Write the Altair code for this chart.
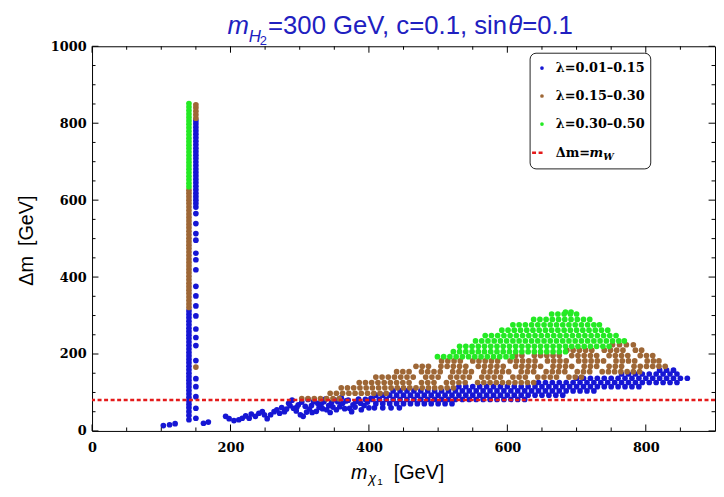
import altair as alt
import pandas as pd

# ---------------- data ----------------
lam_labels = ["λ=0.01–0.15", "λ=0.15–0.30", "λ=0.30–0.50"]
lam_colors = ["#1616d4", "#9e6736", "#24ea24"]
mw_values = [80.4]

x_major = [0, 200, 400, 600, 800]
x_minor = [50, 100, 150, 250, 300, 350, 450, 500, 550, 650, 700, 750, 850]
y_major = [0, 200, 400, 600, 800, 1000]
y_minor = [50, 100, 150, 250, 300, 350, 450, 500, 550, 650, 700, 750, 850, 900, 950]

# vertical strip near m_chi1 ~ 140 GeV
strip1_x = 140
strip1_blue = [29, 40, 50, 60, 69, 78, 87, 96, 105, 114, 123, 132, 141, 150, 159, 168,
               177, 186, 195, 204, 213, 222, 231, 240, 249, 258, 267, 276, 285, 294, 303, 312]
strip1_brown = [321, 330, 339, 348, 357, 366, 375, 384, 393, 402, 411, 420, 429, 438, 447,
                456, 465, 474, 483, 492, 501, 510, 519, 528, 537, 546, 555, 564, 573, 582,
                591, 600, 609, 618, 626]
strip1_green = [635, 644, 653, 662, 671, 680, 689, 698, 707, 716, 725, 734, 743, 752, 761,
                770, 779, 788, 797, 806, 815, 824, 833, 842, 851]
strip2_x = 150
strip2_blue = [582, 591, 600, 609, 618, 627, 636, 645, 654, 663, 672, 681, 690, 699, 708,
               717, 726, 735, 744, 753, 762, 771, 780, 789, 798, 806,
               565, 539, 513, 496, 462, 445, 419, 376, 351, 325, 299, 265, 243, 222, 183,
               136, 115, 89, 59, 33]
strip2_brown = [166, 813, 822, 831, 840, 848]

blue_scatter = [(103, 14), (112, 16), (120, 19), (161, 20), (168, 23), (193, 38), (198, 32),
                (205, 27), (212, 29), (217, 33), (222, 39), (227, 33), (230, 44), (236, 38),
                (241, 46), (246, 50), (249, 42), (253, 32), (258, 42), (263, 50), (267, 55),
                (271, 46), (274, 61), (278, 50), (281, 57), (284, 72), (286, 66), (289, 80),
                (291, 59), (295, 52), (296, 62), (298, 68), (301, 42), (303, 75), (305, 38),
                (308, 64), (310, 49), (312, 82), (314, 57), (317, 66), (318, 48), (320, 76),
                (324, 51), (326, 72), (328, 61), (331, 70), (333, 58), (335, 76), (337, 83),
                (339, 55), (342, 66), (344, 48), (346, 74), (348, 62), (350, 81), (353, 55),
                (355, 76), (358, 63), (360, 86), (362, 72), (365, 58), (367, 78), (370, 80),
                (372, 59), (375, 50), (377, 68), (380, 62), (381, 76), (385, 83), (388, 72),
                (389, 55), (393, 66), (395, 82), (398, 75), (400, 60), (403, 85)]

blue_rows = {
    60: [408, 420, 432, 444],
    71: [410, 420, 430, 440, 450, 460, 470, 480, 490, 500, 510, 520],
    82: [405, 415, 425, 435, 445, 455, 465, 475, 485, 495, 505, 515, 525, 535, 545, 555,
         565, 575, 585, 595, 605, 615, 625],
    93: [410, 420, 430, 440, 450, 460, 470, 480, 490, 500, 510, 520, 530, 540, 550, 560,
         570, 580, 590, 600, 610, 620, 630, 640, 650, 660, 670, 680],
    104: [435, 445, 455, 465, 475, 485, 495, 505, 515, 525, 535, 545, 555, 565, 575, 585,
          595, 605, 615, 625, 635, 645, 655, 665, 675, 685, 695, 705, 715, 725],
    115: [530, 540, 550, 560, 570, 580, 590, 600, 610, 620, 630, 640, 650, 660, 670, 680,
          690, 700, 710, 720, 730, 740, 750, 760, 770, 780, 790],
    126: [645, 655, 665, 675, 685, 695, 705, 715, 725, 735, 745, 755, 765, 775, 785, 795,
          805, 815, 825, 835, 845],
    137: [700, 710, 720, 730, 740, 750, 760, 770, 780, 790, 800, 810, 820, 830, 840, 850, 860],
    148: [765, 775, 785, 795, 805, 815, 825, 835, 845],
    158: [820, 830, 840],
}

brown_rows = {
    84: [303, 312, 321, 330, 339, 348, 357],
    98: [344, 353, 362, 371, 380, 389, 398, 407, 416, 425],
    112: [360, 369, 378, 387, 396, 405, 414, 423, 432, 441, 450, 459, 468, 477, 486, 495,
          504, 513, 522],
    126: [386, 395, 404, 413, 422, 431, 440, 449, 458, 476, 485, 494, 512, 521, 530, 539,
          557, 566, 575, 584, 593, 602, 611, 620, 629, 638],
    140: [410, 419, 428, 437, 446, 455, 464, 482, 491, 500, 518, 527, 536, 545, 563, 572,
          581, 590, 608, 617, 626, 644, 653, 662, 671, 689, 698, 707],
    154: [440, 449, 458, 476, 485, 494, 503, 521, 530, 539, 548, 566, 575, 584, 593, 602,
          620, 629, 638, 656, 665, 674, 683, 701, 710, 719, 737, 746, 755, 764, 773, 782, 791],
    168: [468, 477, 486, 504, 513, 522, 531, 540, 558, 567, 576, 585, 594, 612, 621, 630,
          639, 648, 666, 675, 684, 693, 711, 720, 729, 747, 756, 765, 783, 792, 801, 810,
          819, 828],
    182: [505, 514, 523, 532, 550, 559, 568, 577, 586, 604, 613, 622, 631, 640, 658, 667,
          676, 685, 703, 712, 721, 730, 739, 757, 766, 775, 784, 802, 811, 819],
    196: [612, 621, 639, 648, 657, 666, 675, 693, 702, 711, 720, 729, 747, 756, 765, 774,
          792, 801, 810],
    210: [686, 695, 704, 713, 722, 740, 749, 758, 767, 785, 794],
    224: [752, 762, 772, 782],
}

green_rows = {
    193: [499, 508, 517, 526, 535, 544, 553, 562, 571, 580, 589, 598, 607],
    206: [522, 531, 540, 549, 558, 567, 576, 585, 594, 603, 612, 621, 630, 639, 648, 657,
          666, 675, 684],
    220: [531, 540, 549, 558, 567, 576, 585, 594, 603, 612, 621, 630, 639, 648, 657, 666,
          675, 684, 693, 702, 711, 720, 729, 738, 747],
    234: [554, 563, 572, 581, 590, 599, 608, 617, 626, 635, 644, 653, 662, 671, 680, 689,
          698, 707, 716, 725, 734, 743, 752, 761, 769],
    248: [568, 577, 586, 595, 604, 613, 622, 631, 640, 649, 658, 667, 676, 685, 694, 703,
          712, 721, 730, 739, 748, 757],
    262: [592, 601, 610, 619, 628, 637, 646, 655, 664, 673, 682, 691, 700, 709, 718, 727,
          736, 745],
    276: [608, 617, 626, 635, 644, 653, 662, 671, 680, 689, 698, 707, 716, 725, 733],
    290: [638, 647, 656, 665, 674, 683, 692, 701, 710, 719],
    304: [664, 673, 682, 691, 700],
    309: [684, 692],
}

# ---------------- build table ----------------
records = []


def add(lam, x, y):
    records.append({"x": x, "y": y, "lam": lam})


b, r, g = lam_labels
for y in strip1_blue:
    add(b, strip1_x, y)
for y in strip2_blue:
    add(b, strip2_x, y)
for x, y in blue_scatter:
    add(b, x, y)
for y, xs in blue_rows.items():
    for x in xs:
        add(b, x, y)
for y in strip1_brown:
    add(r, strip1_x, y)
for y in strip2_brown:
    add(r, strip2_x, y)
for y, xs in brown_rows.items():
    for x in xs:
        add(r, x, y)
for y in strip1_green:
    add(g, strip1_x, y)
for y, xs in green_rows.items():
    for x in xs:
        add(g, x, y)

df = pd.DataFrame(records)

W, H = 630, 389
xscale = alt.Scale(domain=[0, 900], nice=False, zero=False)
yscale = alt.Scale(domain=[0, 1000], nice=False, zero=False)
tick_font = "DejaVu Serif"
sans = "Liberation Sans"
title_blue = "#2020c0"

x_axis = alt.Axis(values=x_major, format="d", ticks=False, tickSize=0, domain=False,
                  grid=False, labelFont=tick_font, labelFontWeight="bold", labelFontSize=13,
                  labelColor="black", labelPadding=11, labelFlush=False,
                  labelOverlap=False, title="")
y_axis = alt.Axis(values=y_major, format="d", ticks=False, tickSize=0, domain=False,
                  grid=False, labelFont=tick_font, labelFontWeight="bold", labelFontSize=13,
                  labelColor="black", labelPadding=6, labelFlush=False,
                  labelOverlap=False,
                  title="Δm\u2002[GeV]", titleFont=sans, titleFontSize=20,
                  titleFontWeight="normal", titleColor="black", titleAngle=270,
                  titleX=-60, titleY=196, titleAlign="center",
                  titleBaseline="alphabetic")

points = alt.Chart(df).mark_circle(size=33, opacity=1).encode(
    x=alt.X("x:Q", scale=xscale, axis=x_axis),
    y=alt.Y("y:Q", scale=yscale, axis=y_axis),
    color=alt.Color("lam:N", scale=alt.Scale(domain=lam_labels, range=lam_colors),
                    legend=None),
)

layers = [points]


# frame ticks (inside)
def xticks(vals, y0, y1):
    return alt.Chart(pd.DataFrame({"v": vals})).mark_rule(color="black", strokeWidth=1).encode(
        x=alt.X("v:Q", scale=xscale, axis=x_axis), y=alt.value(y0), y2=alt.value(y1))


def yticks(vals, x0, x1):
    return alt.Chart(pd.DataFrame({"v": vals})).mark_rule(color="black", strokeWidth=1).encode(
        y=alt.Y("v:Q", scale=yscale, axis=y_axis), x=alt.value(x0), x2=alt.value(x1))


layers += [
    xticks(x_major, H, H - 6.5), xticks(x_minor, H, H - 3.5),
    xticks(x_major, 0, 6.5), xticks(x_minor, 0, 3.5),
    yticks(y_major, 0, 6.5), yticks(y_minor, 0, 3.5),
    yticks(y_major, W, W - 6.5), yticks(y_minor, W, W - 3.5),
]

mw_line = alt.Chart(pd.DataFrame({"mw": mw_values})).mark_rule(
    color="#e41a1a", strokeWidth=2.4, strokeDash=[4, 2.6]).encode(
    y=alt.Y("mw:Q", scale=yscale, axis=y_axis))
layers.append(mw_line)

one = pd.DataFrame({"k": [0]})


def txt(s, x, y, size, style="normal", weight="normal", font=sans, color="black",
        align="left", baseline="alphabetic"):
    return alt.Chart(one).mark_text(text=s, font=font, fontSize=size, fontStyle=style,
                                    fontWeight=weight, color=color, align=align,
                                    baseline=baseline).encode(x=alt.value(x), y=alt.value(y))


# title  m_{H2}=300 GeV, c=0.1, sinθ=0.1
tb = -12.5
layers += [
    txt("m", 137, tb, 26, style="italic", color=title_blue),
    txt("H", 158.5, tb + 8.5, 17, style="italic", color=title_blue),
    txt("2", 169.5, tb + 11, 13, color=title_blue),
    txt("=300 GeV, c=0.1, sin", 178, tb, 26, color=title_blue),
    txt("θ", 421, tb, 26, style="italic", color=title_blue),
    txt("=0.1", 435, tb, 26, color=title_blue),
]

# x-axis title  m_{χ1} [GeV]
layers += [
    txt("m", 262, 437.7, 20, style="italic"),
    txt("χ", 279.5, 441.5, 14, style="italic"),
    txt("1", 288.5, 444, 10),
    txt("[GeV]", 305, 437.7, 20),
]

# legend
legend_box = alt.Chart(one).mark_rect(fill="white", stroke="#222222", strokeWidth=1,
                                      cornerRadius=6).encode(
    x=alt.value(443), x2=alt.value(565), y=alt.value(7), y2=alt.value(124))
layers.append(legend_box)
row_y = [22, 50.3, 78.7, 107.7]
for i, lab in enumerate(lam_labels):
    ldf = pd.DataFrame({"lam": [lab]})
    layers.append(alt.Chart(ldf).mark_circle(size=14, opacity=1, color=lam_colors[i]).encode(
        x=alt.value(455), y=alt.value(row_y[i])))
    layers.append(alt.Chart(ldf).mark_text(align="left", baseline="middle", font=tick_font,
                                           fontWeight="bold", fontSize=13, color="black").encode(
        x=alt.value(469), y=alt.value(row_y[i]), text="lam:N"))
layers.append(alt.Chart(one).mark_rule(color="#e41a1a", strokeWidth=2.4, strokeDash=[4, 2.6]).encode(
    x=alt.value(445), x2=alt.value(458), y=alt.value(row_y[3])))
layers += [
    txt("Δm=", 469, row_y[3] + 4.7, 13, weight="bold", font=tick_font),
    txt("m", 503, row_y[3] + 4.7, 13, style="italic", weight="bold", font=tick_font),
    txt("W", 517, row_y[3] + 7.7, 9.5, style="italic", weight="bold", font=tick_font),
]

chart = alt.layer(*layers).properties(
    width=W, height=H,
    autosize=alt.AutoSizeParams(type="none"),
    padding={"left": 85, "top": 36, "right": 1, "bottom": 56},
).configure_view(stroke="black", strokeWidth=1)

chart.save("out.html", embed_options={"renderer": "svg", "actions": False})
